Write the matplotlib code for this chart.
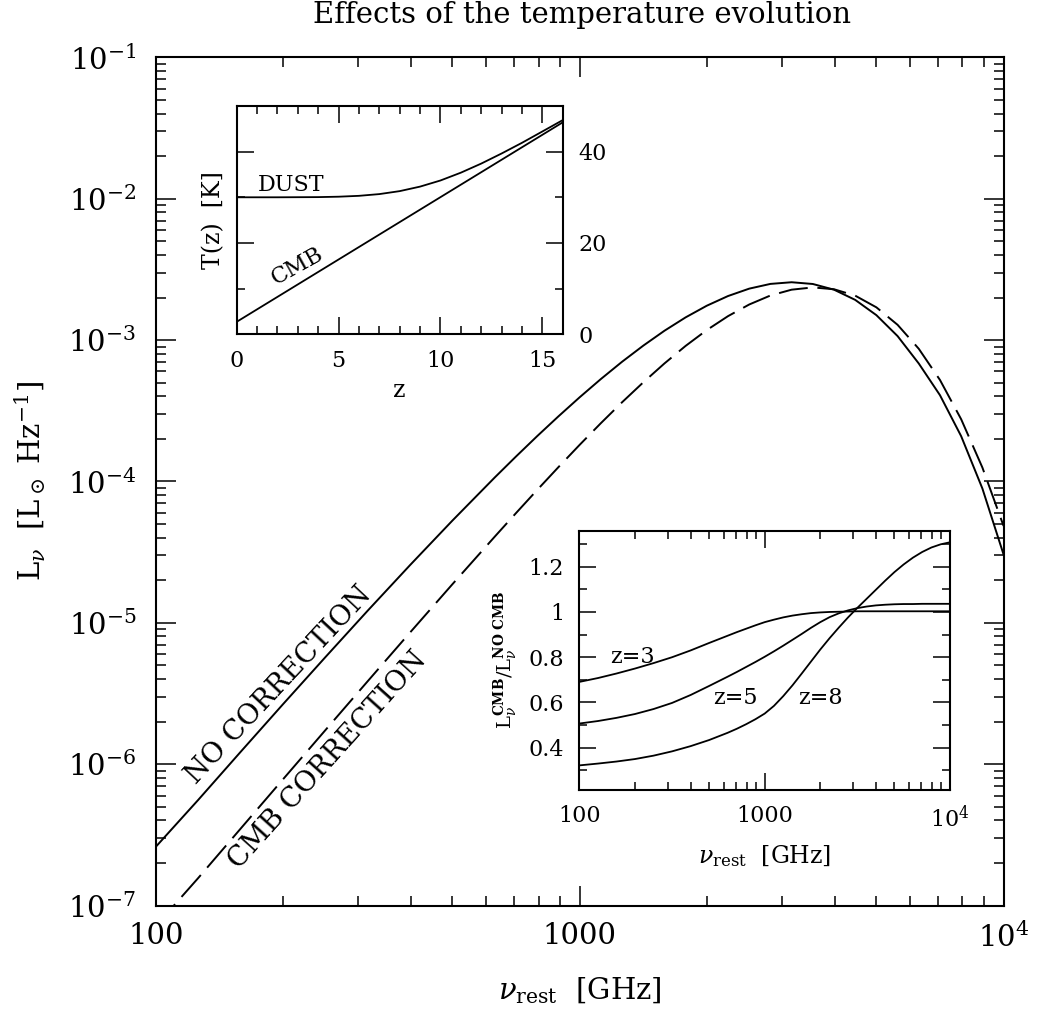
import numpy as np
import matplotlib.pyplot as plt
from matplotlib.ticker import FixedLocator, FixedFormatter, NullFormatter, MultipleLocator, LogLocator

plt.rcParams['font.family'] = 'DejaVu Serif'
plt.rcParams['mathtext.fontset'] = 'dejavuserif'

# ---- frequency grid shared by the SED and the ratio panel [GHz] ----
nu_grid = [100, 125.9, 158.5, 199.5, 251.2, 316.2, 398.1, 501.2, 631.0, 707.9, 794.3,
           891.3, 1000, 1122, 1259, 1413, 1585, 1778, 1995, 2239, 2512, 2818, 3162,
           3548, 3981, 4467, 5012, 5623, 6310, 7079, 7943, 8913, 10000]

# ---- main panel: rest-frame SED, with and without the CMB correction ----
L_no_corr = [2.600e-7, 5.579e-7, 1.220e-6, 2.650e-6, 5.708e-6, 1.218e-5, 2.561e-5,
             5.292e-5, 1.069e-4, 1.502e-4, 2.094e-4, 2.888e-4, 3.938e-4, 5.299e-4,
             7.022e-4, 9.134e-4, 1.164e-3, 1.447e-3, 1.750e-3, 2.049e-3, 2.311e-3,
             2.496e-3, 2.565e-3, 2.493e-3, 2.272e-3, 1.924e-3, 1.500e-3, 1.067e-3,
             6.823e-4, 4.074e-4, 2.089e-4, 8.913e-5, 3.041e-5]
L_cmb_corr = [7.161e-8, 1.563e-7, 3.493e-7, 7.796e-7, 1.738e-6, 3.860e-6, 8.541e-6,
              1.877e-5, 4.078e-5, 5.976e-5, 8.716e-5, 1.263e-4, 1.815e-4, 2.582e-4,
              3.630e-4, 5.025e-4, 6.834e-4, 9.092e-4, 1.177e-3, 1.477e-3, 1.785e-3,
              2.066e-3, 2.272e-3, 2.357e-3, 2.288e-3, 2.061e-3, 1.704e-3, 1.282e-3,
              8.672e-4, 5.220e-4, 2.753e-4, 1.254e-4, 4.842e-5]

# ---- inset: temperature evolution ----
z_grid = [0, 1, 2, 3, 4, 5, 6, 7, 8, 9, 10, 11, 12, 13, 14, 15, 16]
T_dust = [30.0, 30.0, 30.0, 30.02, 30.04, 30.13, 30.32, 30.70, 31.35, 32.34, 33.68,
          35.39, 37.38, 39.59, 41.93, 44.41, 46.9]
T_cmb = [2.73, 5.46, 8.19, 10.92, 13.65, 16.38, 19.11, 21.84, 24.57, 27.30, 30.03,
         32.76, 35.49, 38.22, 40.95, 43.68, 46.41]

# ---- inset: ratio of corrected to uncorrected luminosity ----
ratio_z3 = [0.691, 0.708, 0.728, 0.750, 0.774, 0.800, 0.830, 0.863, 0.895, 0.911, 0.926,
            0.941, 0.955, 0.966, 0.976, 0.984, 0.990, 0.995, 0.998, 1.000, 1.001, 1.002,
            1.003, 1.003, 1.003, 1.003, 1.003, 1.003, 1.003, 1.003, 1.003, 1.003, 1.003]
ratio_z5 = [0.507, 0.518, 0.532, 0.549, 0.571, 0.598, 0.633, 0.673, 0.714, 0.735, 0.757,
            0.779, 0.802, 0.826, 0.851, 0.877, 0.903, 0.930, 0.955, 0.977, 0.994, 1.007,
            1.017, 1.024, 1.029, 1.032, 1.034, 1.035, 1.035, 1.036, 1.036, 1.036, 1.036]
ratio_z8 = [0.322, 0.330, 0.339, 0.350, 0.365, 0.384, 0.407, 0.434, 0.466, 0.484, 0.504,
            0.526, 0.551, 0.585, 0.628, 0.676, 0.728, 0.781, 0.834, 0.884, 0.931, 0.976,
            1.018, 1.058, 1.098, 1.138, 1.176, 1.210, 1.240, 1.265, 1.285, 1.299, 1.308]

fig = plt.figure(figsize=(10.39, 10.13), dpi=100)

# main axes
ax = fig.add_axes([0.1499, 0.1061, 0.8160, 0.8373])
ax.plot(nu_grid, L_no_corr, color='black', lw=1.4)
ax.plot(nu_grid, L_cmb_corr, color='black', lw=1.4, dashes=(15, 5))
ax.set_xscale('log')
ax.set_yscale('log')
ax.set_xlim(100, 1e4)
ax.set_ylim(1e-7, 1e-1)

ax.xaxis.set_major_locator(FixedLocator([100, 1000, 1e4]))
ax.xaxis.set_major_formatter(FixedFormatter(['100', '1000', r'$10^4$']))
ax.xaxis.set_minor_locator(LogLocator(base=10, subs=range(2, 10)))
ax.xaxis.set_minor_formatter(NullFormatter())
y_major = [1e-7, 1e-6, 1e-5, 1e-4, 1e-3, 1e-2, 1e-1]
ax.yaxis.set_major_locator(FixedLocator(y_major))
ax.yaxis.set_major_formatter(FixedFormatter([r'$10^{%d}$' % e for e in range(-7, 0)]))
ax.yaxis.set_minor_locator(LogLocator(base=10, subs=range(2, 10)))
ax.yaxis.set_minor_formatter(NullFormatter())

ax.tick_params(which='both', direction='in', top=True, right=True, width=1.1)
ax.tick_params(which='major', length=14.5, labelsize=21)
ax.tick_params(axis='x', which='major', pad=12)
ax.tick_params(axis='y', which='major', pad=14)
ax.tick_params(which='minor', length=7)
for s in ax.spines.values():
    s.set_linewidth(1.5)

ax.set_xlabel(r'$\nu_{\rm rest}$  [GHz]', fontsize=21, labelpad=16)
ax.set_ylabel(r'L$_\nu$  [L$_\odot$ Hz$^{-1}$]', fontsize=21, labelpad=14)
fig.text(0.5597, 1 - 23 / 1013, 'Effects of the temperature evolution',
         fontsize=21, ha='center', va='baseline')

ax.text(195.4, 3.64e-6, 'NO CORRECTION', fontsize=20, rotation=47,
        ha='center', va='center', rotation_mode='anchor')
ax.text(254.8, 1.07e-6, 'CMB CORRECTION', fontsize=20, rotation=48,
        ha='center', va='center', rotation_mode='anchor')

# inset 1: T(z)
ax1 = fig.add_axes([0.2278, 0.6700, 0.3138, 0.2254])
ax1.plot(z_grid, T_dust, color='black', lw=1.3)
ax1.plot(z_grid, T_cmb, color='black', lw=1.3)
ax1.set_xlim(0, 16)
ax1.set_ylim(0, 50)
ax1.xaxis.set_major_locator(FixedLocator([0, 5, 10, 15]))
ax1.xaxis.set_minor_locator(MultipleLocator(1))
ax1.yaxis.set_major_locator(FixedLocator([0, 20, 40]))
ax1.yaxis.set_minor_locator(MultipleLocator(10))
ax1.tick_params(which='both', direction='in', top=True, right=True, width=1.1)
ax1.tick_params(axis='y', labelleft=False, labelright=True)
ax1.tick_params(which='major', length=12, labelsize=16, pad=11)
ax1.tick_params(which='minor', length=6)
for s in ax1.spines.values():
    s.set_linewidth(1.5)
ax1.set_xlabel('z', fontsize=17, labelpad=5)
ax1.set_ylabel('T(z)  [K]', fontsize=17, labelpad=5)
ax1.text(1.05, 31.4, 'DUST', fontsize=16, ha='left', va='baseline')
ax1.text(3.0, 15.0, 'CMB', fontsize=16, rotation=29, ha='center', va='center',
         rotation_mode='anchor')

# inset 2: ratio with/without CMB
ax2 = fig.add_axes([0.5577, 0.2201, 0.3566, 0.2562])
ax2.plot(nu_grid, ratio_z3, color='black', lw=1.3)
ax2.plot(nu_grid, ratio_z5, color='black', lw=1.3)
ax2.plot(nu_grid, ratio_z8, color='black', lw=1.3)
ax2.set_xscale('log')
ax2.set_xlim(100, 1e4)
ax2.set_ylim(0.213, 1.36)
ax2.xaxis.set_major_locator(FixedLocator([100, 1000, 1e4]))
ax2.xaxis.set_major_formatter(FixedFormatter(['100', '1000', r'$10^4$']))
ax2.xaxis.set_minor_locator(LogLocator(base=10, subs=range(2, 10)))
ax2.xaxis.set_minor_formatter(NullFormatter())
ax2.yaxis.set_major_locator(FixedLocator([0.4, 0.6, 0.8, 1.0, 1.2]))
ax2.yaxis.set_major_formatter(FixedFormatter(['0.4', '0.6', '0.8', '1', '1.2']))
ax2.yaxis.set_minor_locator(MultipleLocator(0.1))
ax2.tick_params(which='both', direction='in', top=True, right=True, width=1.1)
ax2.tick_params(which='major', length=12, labelsize=16, pad=11)
ax2.tick_params(which='minor', length=6)
for s in ax2.spines.values():
    s.set_linewidth(1.5)
ax2.set_xlabel(r'$\nu_{\rm rest}$  [GHz]', fontsize=17, labelpad=8)
ax2.set_ylabel(r'L$_\nu^{\mathbf{CMB}}$/L$_\nu^{\mathbf{NO\ CMB}}$', fontsize=14, labelpad=6)
ax2.text(146, 0.775, 'z=3', fontsize=16, ha='left', va='baseline')
ax2.text(528, 0.595, 'z=5', fontsize=16, ha='left', va='baseline')
ax2.text(1510, 0.595, 'z=8', fontsize=16, ha='left', va='baseline')

fig.savefig('out.png', dpi=100)
print("saved out.png")
